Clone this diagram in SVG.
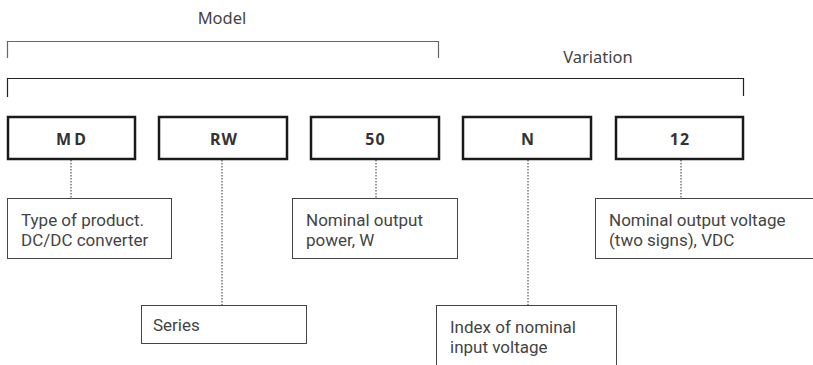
<svg xmlns="http://www.w3.org/2000/svg" width="813" height="365" viewBox="0 0 813 365">
<style>
.code rect{fill:#fff;stroke:#1a1a1a;stroke-width:2.5}
.code text{font-family:"Noto Sans","DejaVu Sans",sans-serif;font-size:16px;font-weight:bold;fill:#333;text-anchor:middle;letter-spacing:1px}
.desc rect{fill:#fff;stroke:#444;stroke-width:1}
.desc text{font-family:Roboto,"Noto Sans",sans-serif;font-size:17px;fill:#444}
.hdr{font-family:"Noto Sans","DejaVu Sans",sans-serif;font-size:16.5px;fill:#444;text-anchor:middle}
.dot{stroke:#333;stroke-width:1;stroke-dasharray:1.5 1.5;fill:none}
.br{fill:none;stroke-width:1.2}
</style>
<rect width="813" height="365" fill="#fff"/>
<g id="brackets">
<text class="hdr" x="222" y="24">Model</text>
<path class="br" stroke="#666" d="M7.5 58V41.5H438.5V58"/>
<text class="hdr" x="598" y="63">Variation</text>
<path class="br" stroke="#222" d="M7.5 97V78.5H743.5V96"/>
</g>
<g id="connectors">
<line class="dot" x1="71" y1="160" x2="71" y2="198"/>
<line class="dot" x1="222" y1="160" x2="222" y2="305"/>
<line class="dot" x1="376" y1="160" x2="376" y2="198"/>
<line class="dot" x1="528" y1="160" x2="528" y2="305"/>
<line class="dot" x1="681" y1="160" x2="681" y2="198"/>
</g>
<g id="code-md" class="code"><rect x="8" y="117" width="127" height="42"/><text x="72.5" y="145" style="letter-spacing:3px">MD</text></g>
<g id="code-rw" class="code"><rect x="159" y="117" width="128" height="42"/><text x="224" y="145">RW</text></g>
<g id="code-50" class="code"><rect x="311" y="117" width="128" height="42"/><text x="375.5" y="145">50</text></g>
<g id="code-n" class="code"><rect x="463" y="117" width="128" height="42"/><text x="528" y="145">N</text></g>
<g id="code-12" class="code"><rect x="616" y="117" width="127" height="42"/><text x="680" y="145">12</text></g>
<g id="desc-type" class="desc"><rect x="7.5" y="198.5" width="164" height="60"/><text x="21" y="226">Type of product.</text><text x="21" y="246">DC/DC converter</text></g>
<g id="desc-series" class="desc"><rect x="141.5" y="305.5" width="165" height="38"/><text x="153" y="331">Series</text></g>
<g id="desc-power" class="desc"><rect x="292.5" y="198.5" width="165" height="60"/><text x="306" y="226">Nominal output</text><text x="306" y="246">power, W</text></g>
<g id="desc-index" class="desc"><rect x="436.5" y="305.5" width="180" height="70"/><text x="450" y="333">Index of nominal</text><text x="450" y="353">input voltage</text></g>
<g id="desc-voltage" class="desc"><rect x="595.5" y="198.5" width="230" height="60"/><text x="609" y="226">Nominal output voltage</text><text x="609" y="246">(two signs), VDC</text></g>
</svg>
